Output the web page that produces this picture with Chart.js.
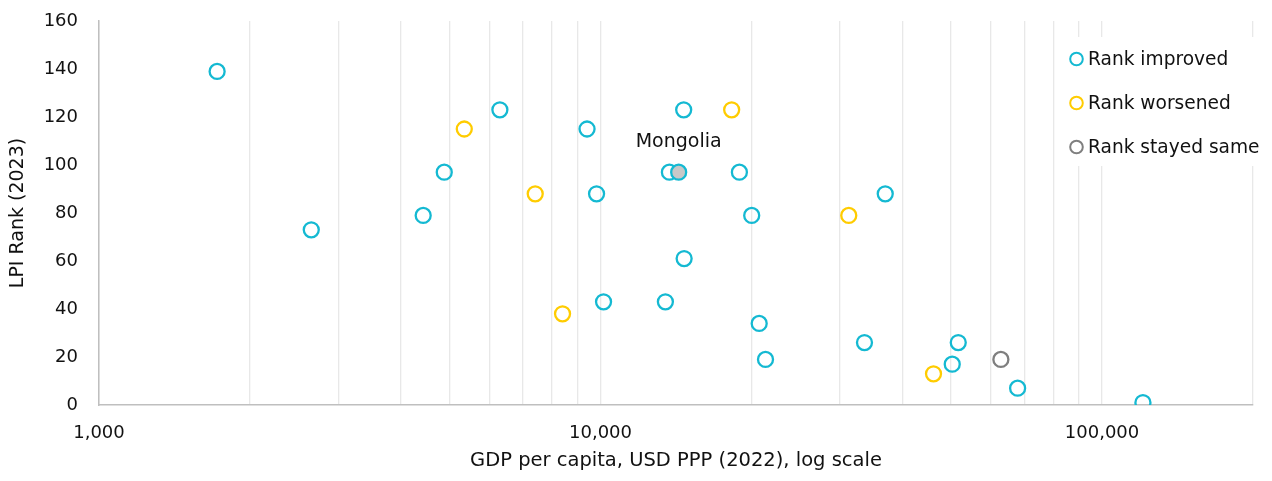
<!DOCTYPE html>
<html>
<head>
<meta charset="utf-8">
<script src="https://cdn.jsdelivr.net/npm/chart.js@4.4.1/dist/chart.umd.min.js"></script>
<style>
  html, body { margin: 0; padding: 0; background: #ffffff; }
  #wrap { width: 1272px; height: 481px; }
</style>
</head>
<body>
<div id="wrap"><canvas id="c" width="1272" height="481"></canvas></div>
<script>
// ---- Data ----
const improvedGDP = [1720, 2650, 4430, 4880, 6300, 9400, 9820, 10140, 13470, 13720, 14650, 14680, 18920, 20020, 20720, 21330, 33600, 36960, 50270, 51680, 67870, 120660];
const improvedLPI = [139, 73, 79, 97, 123, 115, 88, 43, 43, 97, 123, 61, 97, 79, 34, 19, 26, 88, 17, 26, 7, 1];
const worsenedGDP = [5350, 7410, 8400, 18260, 31260, 46130];
const worsenedLPI = [115, 88, 38, 123, 79, 13];
const sameGDP = [62850];
const sameLPI = [19];
const mongoliaGDP = [14317];
const mongoliaLPI = [97];
const mongoliaLabel = ['Mongolia'];

const xGridValues = [1000, 2000, 3000, 4000, 5000, 6000, 7000, 8000, 9000,
                     10000, 20000, 30000, 40000, 50000, 60000, 70000, 80000, 90000,
                     100000, 200000];
const xLabelValues = [1000, 10000, 100000];
const legendLabels = ['Rank improved', 'Rank worsened', 'Rank stayed same'];

const CYAN = '#14B9D2';
const YELLOW = '#FFCC00';
const GREY = '#7F7F7F';
const FILL_GREY = '#C8C8C8';
const FONT = "'DejaVu Sans', sans-serif";

const zip = (xs, ys) => xs.map((x, i) => ({ x: x, y: ys[i] }));

const pointStyle = (color) => ({
  pointRadius: 7.5,
  pointHoverRadius: 7.5,
  borderWidth: 2.3,
  pointBorderWidth: 2.3,
  borderColor: color,
  pointBorderColor: color,
  backgroundColor: 'rgba(0,0,0,0)',
  pointBackgroundColor: 'rgba(0,0,0,0)',
  showLine: false,
  order: 1
});

const overlayPlugin = {
  id: 'overlay',
  afterDatasetsDraw(chart) {
    const ctx = chart.ctx;
    const xs = chart.scales.x, ys = chart.scales.y;
    ctx.save();
    // Mongolia label
    ctx.font = '19px ' + FONT;
    ctx.fillStyle = '#111111';
    ctx.textAlign = 'center';
    ctx.textBaseline = 'middle';
    mongoliaGDP.forEach((g, i) => {
      const px = xs.getPixelForValue(g);
      const py = ys.getPixelForValue(mongoliaLPI[i]);
      ctx.fillText(mongoliaLabel[i], px, py - 30);
    });
    // Legend box
    ctx.fillStyle = '#ffffff';
    ctx.fillRect(1056, 37, 216, 129);
    const colors = [CYAN, YELLOW, GREY];
    ctx.font = '18.6px ' + FONT;
    ctx.textAlign = 'left';
    ctx.textBaseline = 'middle';
    legendLabels.forEach((t, i) => {
      const cy = 59 + i * 44;
      ctx.beginPath();
      ctx.arc(1076.5, cy, 6.3, 0, Math.PI * 2);
      ctx.lineWidth = 2;
      ctx.strokeStyle = colors[i];
      ctx.stroke();
      ctx.fillStyle = '#111111';
      ctx.fillText(t, 1088, cy + 1);
    });
    ctx.restore();
  }
};

new Chart(document.getElementById('c'), {
  type: 'scatter',
  data: {
    datasets: [
      Object.assign({ label: 'Mongolia', data: zip(mongoliaGDP, mongoliaLPI) }, pointStyle(CYAN), { pointBackgroundColor: FILL_GREY, backgroundColor: FILL_GREY, order: 0 }),
      Object.assign({ label: legendLabels[0], data: zip(improvedGDP, improvedLPI) }, pointStyle(CYAN)),
      Object.assign({ label: legendLabels[1], data: zip(worsenedGDP, worsenedLPI) }, pointStyle(YELLOW)),
      Object.assign({ label: legendLabels[2], data: zip(sameGDP, sameLPI) }, pointStyle(GREY))
    ]
  },
  options: {
    responsive: false,
    animation: false,
    events: [],
    layout: { padding: { top: 21, right: 19, bottom: 0, left: 0 } },
    plugins: {
      legend: { display: false },
      tooltip: { enabled: false },
      title: { display: false }
    },
    scales: {
      x: {
        type: 'logarithmic',
        min: 1000,
        max: 200000,
        afterBuildTicks: (scale) => { scale.ticks = xGridValues.map(v => ({ value: v })); },
        afterFit: (scale) => { scale.height = 76; },
        grid: { display: true, color: '#E8E8E8', lineWidth: 1.3, drawTicks: false },
        border: { display: true, color: '#BFBFBF', width: 1.5 },
        ticks: {
          autoSkip: false,
          maxRotation: 0,
          padding: 18,
          color: '#111111',
          font: { family: FONT, size: 18 },
          callback: (v) => xLabelValues.includes(v) ? v.toLocaleString('en-US') : ''
        },
        title: {
          display: true,
          text: 'GDP per capita, USD PPP (2022), log scale',
          color: '#111111',
          font: { family: FONT, size: 19.5 },
          padding: { top: 0, bottom: 8 }
        }
      },
      y: {
        min: 0,
        max: 160,
        afterFit: (scale) => { scale.width = 99; scale.paddingTop = 0; scale.paddingBottom = 0; },
        grid: { display: false, drawTicks: false },
        border: { display: true, color: '#BFBFBF', width: 1.5 },
        ticks: {
          stepSize: 20,
          padding: 21,
          color: '#111111',
          font: { family: FONT, size: 18 }
        },
        title: {
          display: true,
          text: 'LPI Rank (2023)',
          color: '#111111',
          font: { family: FONT, size: 19 },
          padding: { top: 7, bottom: 0 }
        }
      }
    }
  },
  plugins: [overlayPlugin]
});
</script>
</body>
</html>
